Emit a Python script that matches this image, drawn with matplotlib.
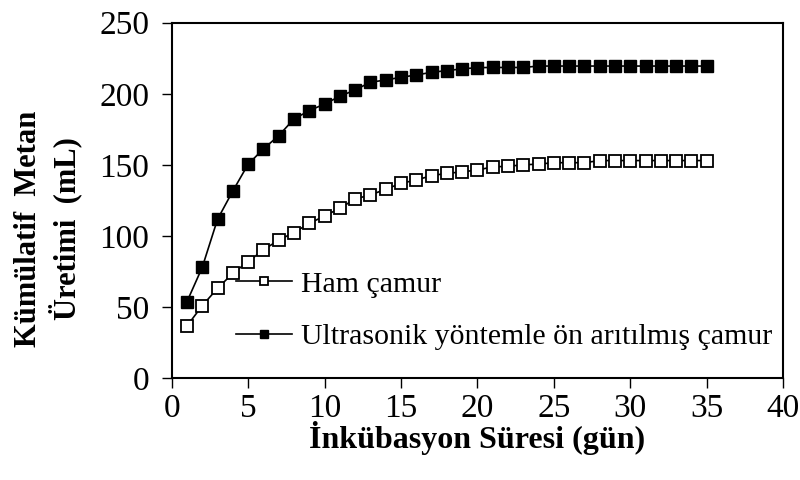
import numpy as np
import matplotlib
matplotlib.use('Agg')
import matplotlib.pyplot as plt

# --- data ---
gun = list(range(1, 36))

ham_camur = [36.6, 50.9, 63.1, 73.7, 81.9, 90.1, 97.1, 102.3, 108.8, 114.0,
             119.4, 126.0, 128.8, 132.8, 137.0, 139.3, 142.4, 144.0, 145.0, 146.4,
             148.5, 149.0, 150.0, 150.5, 151.5, 151.5, 151.5, 153.0, 153.0, 153.0,
             153.0, 153.0, 153.0, 153.0, 153.0]

ultrasonik = [53.7, 77.9, 111.7, 131.6, 150.4, 161.2, 170.5, 182.3, 188.1, 192.8,
              198.2, 202.7, 208.1, 209.7, 211.6, 213.2, 215.1, 216.3, 217.5, 218.4,
              218.5, 218.5, 218.5, 219.5, 219.5, 219.5, 219.5, 219.5, 219.5, 219.5,
              219.5, 219.5, 219.5, 219.5, 219.5]

labels = ['Ham çamur', 'Ultrasonik yöntemle ön arıtılmış çamur']
x_ticks = [0, 5, 10, 15, 20, 25, 30, 35, 40]
y_ticks = [0, 50, 100, 150, 200, 250]

plt.rcParams['font.family'] = ['Liberation Serif', 'DejaVu Serif']

fig = plt.figure(figsize=(8, 4.8), dpi=100)
ax = fig.add_axes([0.2146, 0.2125, 0.979 - 0.2146, 0.9527 - 0.2125])

ax.plot(gun, ham_camur, color='black', lw=1.2, marker='s', ms=8.5,
        mfc='white', mec='black', mew=1.3, label=labels[0])
ax.plot(gun, ultrasonik, color='black', lw=1.2, marker='s', ms=8.5,
        mfc='black', mec='black', label=labels[1])

ax.set_xlim(0, 40)
ax.set_ylim(0, 250)
ax.set_xticks(x_ticks)
ax.set_yticks(y_ticks)
ax.tick_params(direction='out', length=7, width=1, labelsize=24)
ax.tick_params(axis='y', pad=9)
ax.tick_params(axis='x', pad=4)
for s in ax.spines.values():
    s.set_linewidth(1.5)

ax.set_xlabel('İnkübasyon Süresi (gün)', fontsize=23, fontweight='bold', labelpad=-2)
ax.set_ylabel('Kümülatif  Metan\nÜretimi  (mL)', fontsize=22, fontweight='bold',
              linespacing=1.2)
ax.yaxis.set_label_coords(-0.147, 0.42)

leg = ax.legend(loc='lower left', bbox_to_anchor=(0.085, 0.045), frameon=False,
                fontsize=21.5, handlelength=1.9, handletextpad=0.3, labelspacing=0.85,
                borderaxespad=0)
for h in leg.legend_handles:
    h.set_markersize(6)

fig.savefig('out.png', dpi=100)
